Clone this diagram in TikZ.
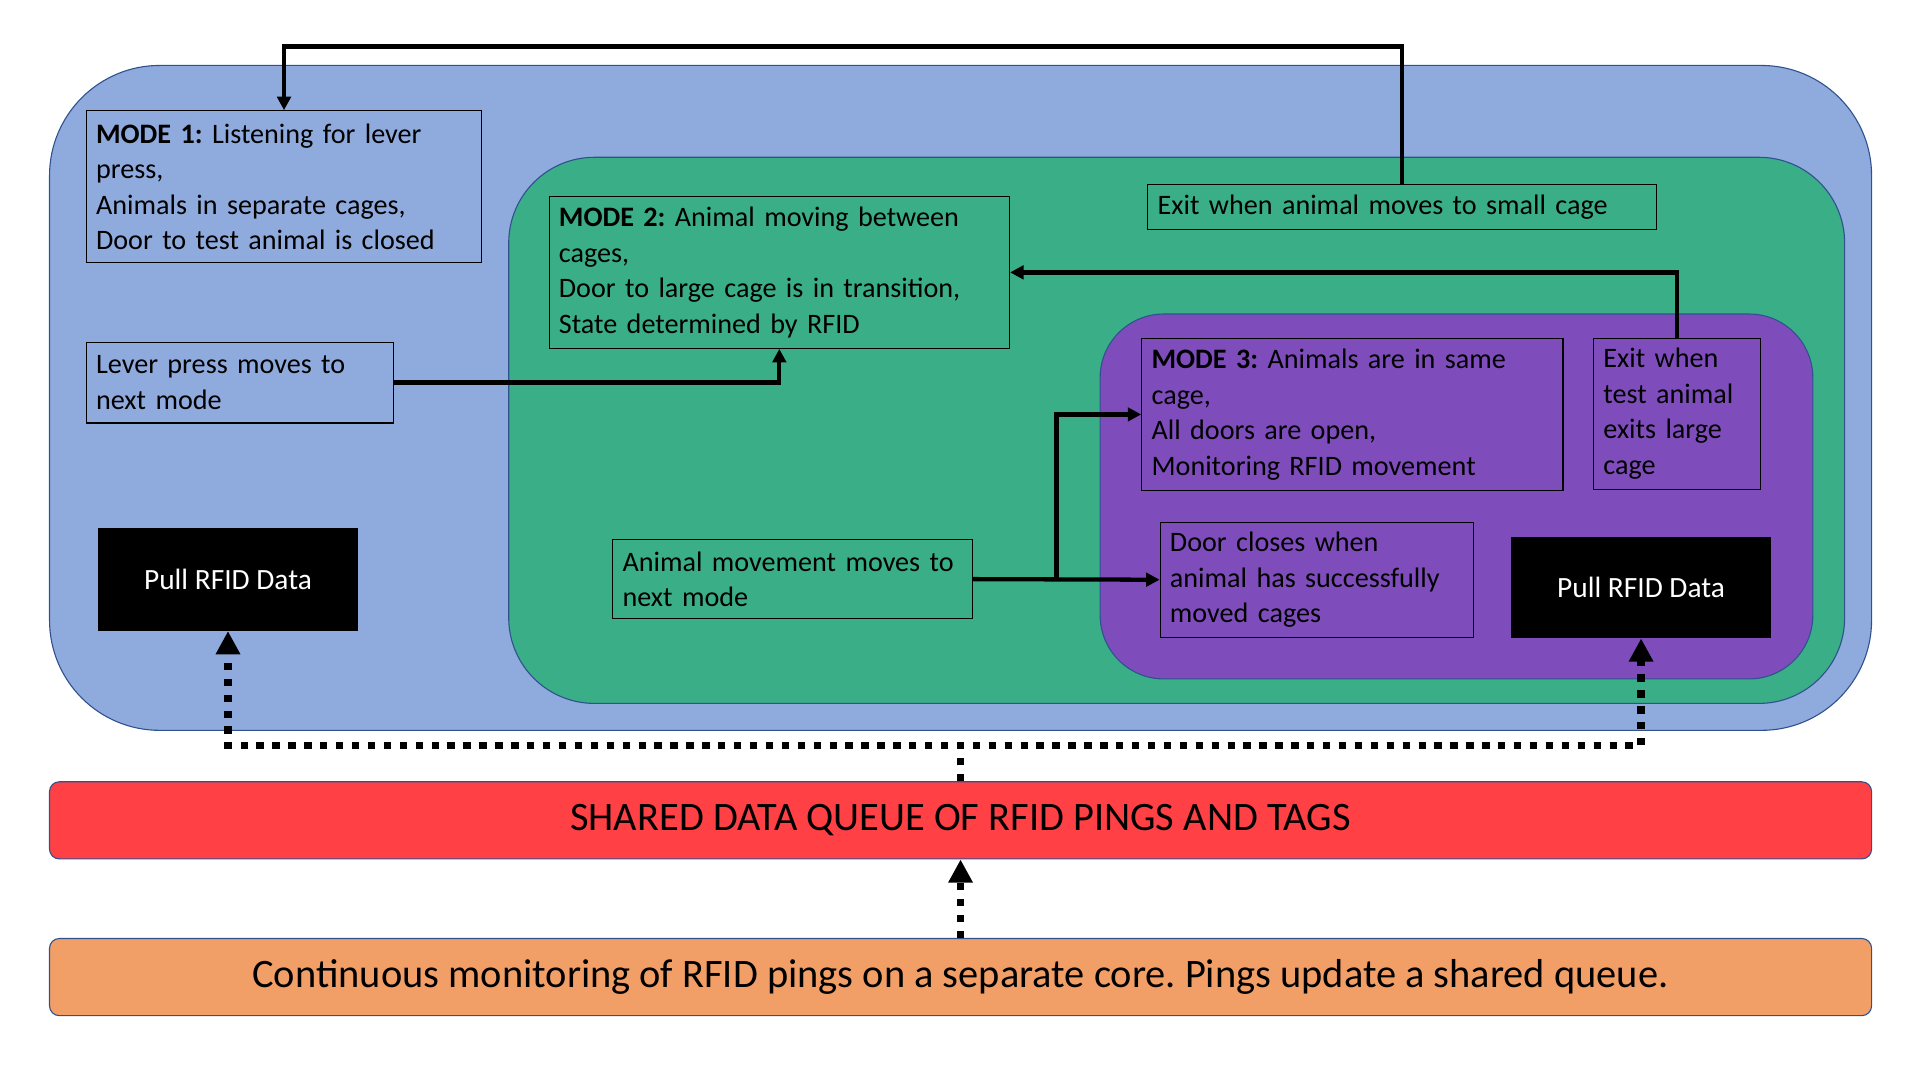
\documentclass[tikz,border=0pt]{standalone}
\usepackage{fontspec}
\setmainfont{Carlito}
\usetikzlibrary{arrows.meta,calc}
\definecolor{cblue}{HTML}{8FAADC}
\definecolor{cgreen}{HTML}{3AAE87}
\definecolor{cpurple}{HTML}{7E4DBB}
\definecolor{cred}{HTML}{FF4045}
\definecolor{corange}{HTML}{F29F67}
\definecolor{cedge}{HTML}{2F528F}
\frenchspacing
\begin{document}
\begin{tikzpicture}[x=1pt,y=-1pt,
 zone/.style={draw=cedge, line width=0.9pt, anchor=north west, inner sep=0pt},
 tbox/.style={draw=black, line width=0.9pt, anchor=north west, inner xsep=8pt, inner ysep=0pt, align=left, font=\fontsize{23}{29}\selectfont},
 pull/.style={fill=black, text=white, anchor=north west, inner sep=0pt, align=center, font=\fontsize{24}{29}\selectfont, minimum width=212pt},
 arr/.style={line width=3.5pt, -{Triangle[length=11pt,width=11pt]}},
 dotarr/.style={line width=6pt, dash pattern=on 6pt off 7pt, -{Triangle[length=19pt,width=19pt]}},
 bar/.style={draw=cedge, line width=0.9pt, rounded corners=8pt, anchor=north west, minimum width=1488pt, minimum height=63pt, inner sep=0pt, font=\fontsize{33}{38}\selectfont}]

\useasboundingbox (0,0) rectangle (1568,882);

% containers
\node[zone, fill=cblue, rounded corners=90pt, minimum width=1488pt, minimum height=543pt] (zb) at (40,53) {};
\node[zone, fill=cgreen, rounded corners=70pt, minimum width=1091pt, minimum height=446pt] (zg) at (415,128) {};
\node[zone, fill=cpurple, rounded corners=52pt, minimum width=582pt, minimum height=298pt] (zp) at (898,256) {};

% text boxes
\node[tbox, text width=307pt, minimum height=124pt] (m1) at (70,90)
 {\mbox{\textbf{MODE 1:} Listening for lever}\\press,\\\mbox{Animals in separate cages,}\\\mbox{Door to test animal is closed}};
\node[tbox, text width=235pt, minimum height=66pt] (lev) at (70,279)
 {\mbox{Lever press moves to}\\next mode};
\node[tbox, text width=360pt, minimum height=124pt] (m2) at (448,160)
 {\mbox{\textbf{MODE 2:} Animal moving between}\\cages,\\\mbox{Door to large cage is in transition,}\\\mbox{State determined by RFID}};
\node[tbox, text width=399pt, minimum height=37pt] (exs) at (937,150)
 {\mbox{Exit when animal moves to small cage}};
\node[tbox, text width=328pt, minimum height=124pt] (m3) at (932,276)
 {\mbox{\textbf{MODE 3:} Animals are in same}\\cage,\\\mbox{All doors are open,}\\\mbox{Monitoring RFID movement}};
\node[tbox, text width=120pt, minimum height=123pt] (exl) at (1301,276)
 {\mbox{Exit when}\\\mbox{test animal}\\\mbox{exits large}\\cage};
\node[tbox, text width=278pt, minimum height=65pt] (anim) at (500,440)
 {\mbox{Animal movement moves to}\\next mode};
\node[tbox, text width=240pt, minimum height=94pt] (door) at (947,426)
 {\mbox{Door closes when}\\\mbox{animal has successfully}\\\mbox{moved cages}};

\node[pull, minimum height=84pt] (pl) at (80,431) {Pull RFID Data};
\node[pull, minimum height=83pt] (pr) at (1234,438) {Pull RFID Data};

% bars
\node[bar, fill=cred] (red) at (40,638) {SHARED DATA QUEUE OF RFID PINGS AND TAGS};
\node[bar, fill=corange] (ora) at (40,766) {Continuous monitoring of RFID pings on a separate core. Pings update a shared queue.};

% connectors
\draw[arr] (exs.north) -- ++(0,-112) -| (m1.north);
\draw[arr] (lev.east) -| (m2.south);
\draw[arr] (exl.north) |- (m2.east);
\draw[arr] (anim.east) -- (door.west);
\draw[arr] (anim.east) -- ++(68,0) |- (m3.west);

\draw[dotarr] (red.north) -- ++(0,-29) -| (pl.south);
\draw[dotarr] (red.north) -- ++(0,-29) -| (pr.south);
\draw[dotarr] (ora.north) -- (red.south);
\end{tikzpicture}
\end{document}
